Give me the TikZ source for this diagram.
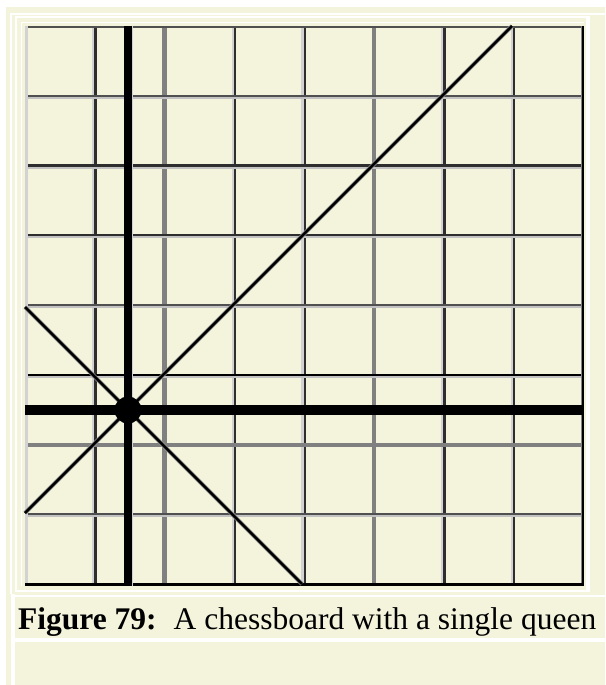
\documentclass[tikz,border=0pt]{standalone}
\usepackage{fontspec}
\setmainfont{Liberation Serif}
\definecolor{bg}{HTML}{F4F4DC}
\definecolor{gdark}{HTML}{2E2E2E}
\definecolor{gmid}{HTML}{505050}
\definecolor{ggray}{HTML}{808080}
\definecolor{glight}{HTML}{D2D2D2}
\tikzset{
  diagline/.style={line width=2.6pt, black, line cap=butt},
  diagshade/.style={line width=4pt, black!40, line cap=butt},
  queendot/.style={circle, fill=black, inner sep=0pt, minimum size=27pt},
  captext/.style={anchor=base west, inner sep=0pt, font=\fontsize{31.5}{36}\selectfont}
}
\begin{document}
\begin{tikzpicture}[x=1pt,y=-1pt]
\useasboundingbox (0,0) rectangle (605,685);
\fill[white] (0,0) rectangle (605,685);
\fill[bg] (6,7) rectangle (605,685);
% frame lines (white)
\fill[white] (10,13) rectangle (605,15.5);
\fill[white] (10,13) rectangle (12,594);
\fill[white] (11,594) rectangle (15,685);
\fill[white] (15,16.5) rectangle (590,18);
\fill[white] (15,16.5) rectangle (17,592);
\fill[white] (586,16.5) rectangle (590,592);
\fill[white] (15,590) rectangle (590,592);
\fill[white] (21,22) rectangle (584,23.3);
\fill[white] (21,22) rectangle (22.3,586);
\fill[white] (15,594.5) rectangle (605,597);
\fill[white] (15,637.5) rectangle (605,641.5);
% board
\fill[bg] (25,26) rectangle (584,586);
% vertical grid lines
\foreach \x/\c in {94.75/gdark,234.25/gdark,304/gdark,443.5/gdark,513.25/gdark}{
  \fill[glight] (\x-2.6,26) rectangle (\x-0.3,584);
  \fill[\c] (\x-0.3,26) rectangle (\x+2,584);
}
\foreach \x in {164.5,373.75}{
  \fill[ggray] (\x-2.2,26) rectangle (\x+2,584);
}
% horizontal grid lines
\foreach \y/\c in {95.75/gmid,165.5/gdark,235.25/gdark,305/gmid,374.75/black,514.25/gmid}{
  \fill[\c] (25,\y-1.2) rectangle (584,\y+1.1);
  \fill[glight!80!gray] (25,\y+1.1) rectangle (584,\y+3.2);
}
\fill[ggray] (25,444.5-1.5) rectangle (584,444.5+2.2);
% board edges
\fill[gmid] (25,26) rectangle (584,28.4);
\fill[glight] (25,26) rectangle (28,586);
\fill[gmid!70] (580.5,26) rectangle (582,586);
\fill[black] (582,26) rectangle (584.2,586);
\fill[black] (25,583.2) rectangle (584.2,586);
% queen lines of attack
\coordinate (q) at (128,410);
\coordinate (vt) at (128,26);
\coordinate (vb) at (128,586);
\coordinate (hl) at (25,410);
\coordinate (hr) at (584,410);
\coordinate (a1) at (25,307);
\coordinate (a2) at (302,584);
\coordinate (d1) at (25,513);
\coordinate (d2) at (512,26);
\fill[glight] (131.8,26) rectangle (133.2,586);
\draw[line width=7.6pt, black] (vt) -- (vb);
\draw[line width=10pt, black] (hl) -- (hr);
\draw[diagshade] (a1) -- (a2);
\draw[diagshade] (d1) -- (d2);
\draw[diagline] (a1) -- (a2);
\draw[diagline] (d1) -- (d2);
\node[queendot] (queen) at (q) {};
% caption
\node[captext] (cap) at (18,629) {\textbf{Figure 79:}\hspace{17pt}A chessboard with a single queen};
\end{tikzpicture}
\end{document}
